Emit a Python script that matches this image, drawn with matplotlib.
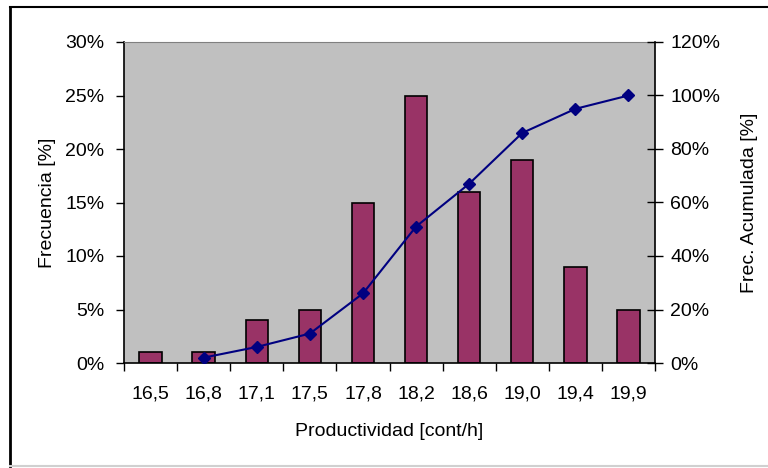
import matplotlib
matplotlib.use("Agg")
import matplotlib.pyplot as plt
from matplotlib.lines import Line2D
from matplotlib.ticker import PercentFormatter, FixedLocator
import numpy as np

# data
categorias = ["16,5", "16,8", "17,1", "17,5", "17,8", "18,2", "18,6", "19,0", "19,4", "19,9"]
frecuencia = [1, 1, 4, 5, 15, 25, 16, 19, 9, 5]            # %
acumulada = [np.nan, 2, 6, 11, 26, 51, 67, 86, 95, 100]     # %

plt.rcParams['font.family'] = ['Liberation Sans', 'DejaVu Sans']
plt.rcParams['font.size'] = 14

W, H = 768, 468
fig = plt.figure(figsize=(W / 100, H / 100), dpi=100)
ax = fig.add_axes([124 / W, 1 - 363 / H, (655 - 124) / W, (363 - 42) / H])
ax.set_facecolor("#C0C0C0")

x = np.arange(len(categorias))
ax.bar(x, frecuencia, width=0.42, color="#993366", edgecolor="black", linewidth=1.2, zorder=2)
ax.set_xlim(-0.5, len(categorias) - 0.5)
ax.set_ylim(0, 30)
ax.set_yticks(np.arange(0, 31, 5))
ax.yaxis.set_major_formatter(PercentFormatter(decimals=0))
ax.set_xticks(x)
ax.set_xticklabels(categorias)
ax.xaxis.set_minor_locator(FixedLocator(np.arange(-0.5, len(categorias), 1)))
ax.tick_params(axis="x", which="major", length=0, pad=16)
ax.tick_params(axis="x", which="minor", length=6, width=1, direction="out")
ax.tick_params(axis="y", length=6, width=1, direction="out", pad=8)
ax.set_ylabel("Frecuencia [%]", labelpad=7)
ax.set_xlabel("Productividad [cont/h]", labelpad=15)

for s in ["left", "bottom"]:
    ax.spines[s].set_color("black")
    ax.spines[s].set_linewidth(1.2)
ax.spines["top"].set_color("#808080")
ax.spines["right"].set_visible(False)

ax2 = ax.twinx()
ax2.plot(x, acumulada, color="#000080", linewidth=1.5, marker="D", markersize=6,
         markerfacecolor="#000080", markeredgecolor="#000080", zorder=3)
ax2.set_ylim(0, 120)
ax2.set_yticks(np.arange(0, 121, 20))
ax2.yaxis.set_major_formatter(PercentFormatter(decimals=0))
ax2.tick_params(axis="y", length=12, width=1, direction="inout", pad=5)
ax2.set_ylabel("Frec. Acumulada [%]", labelpad=15)
for s in ["left", "top", "bottom"]:
    ax2.spines[s].set_visible(False)
ax2.spines["right"].set_color("black")
ax2.spines["right"].set_linewidth(1.2)

# outer chart border
fig.add_artist(Line2D([10 / W, 10 / W], [1 - 7 / H, 1 - 466 / H], transform=fig.transFigure, color="black", linewidth=2))
fig.add_artist(Line2D([10 / W, 1], [1 - 7 / H, 1 - 7 / H], transform=fig.transFigure, color="black", linewidth=1.5))
fig.add_artist(Line2D([10 / W, 1], [1 - 466 / H, 1 - 466 / H], transform=fig.transFigure, color="#D0D0D0", linewidth=1.5))

fig.savefig("out.png", dpi=100)
